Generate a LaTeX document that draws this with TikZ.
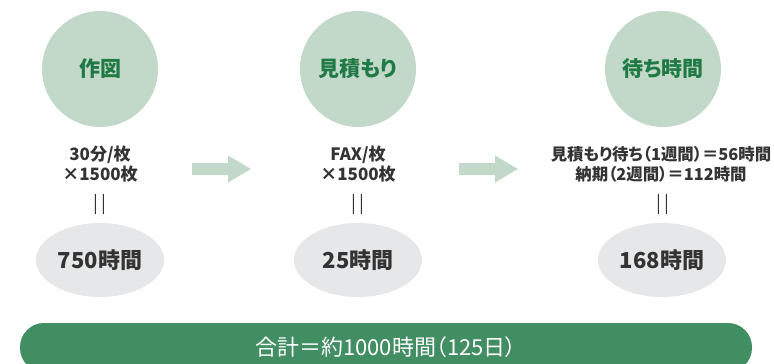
\documentclass[tikz,border=0pt]{standalone}
\usepackage{fontspec}
\setmainfont{Noto Sans CJK JP}[RawFeature=+palt]
\usetikzlibrary{shapes.geometric}
\definecolor{circ}{HTML}{C2D8C8}
\definecolor{dgreen}{HTML}{1F7A45}
\definecolor{greyell}{HTML}{E6E7E8}
\definecolor{bar}{HTML}{418E62}
\definecolor{txt}{HTML}{333333}
\tikzset{
  stage/.style={circle, fill=circ, minimum size=116pt, inner sep=0pt, text=dgreen, font=\fontsize{21}{24}\selectfont\bfseries},
  note/.style={align=center, text=txt, inner sep=0pt, font=\fontsize{17}{20}\selectfont\bfseries},
  eqs/.style={text=txt, inner sep=0pt, font=\fontsize{18}{20}\selectfont},
  result/.style={ellipse, fill=greyell, minimum width=128pt, minimum height=74pt, inner sep=0pt, text=txt, font=\fontsize{22}{25}\selectfont\bfseries},
  flow/.style={fill=circ},
}
\begin{document}
\begin{tikzpicture}[x=1pt,y=-1pt]
\useasboundingbox (0,0) rectangle (774,364);
\clip (0,0) rectangle (774,364);
% stages
\node[stage] (c1) at (100,69) {作図};
\node[stage] (c2) at (358,69) {見積もり};
\node[stage] (c3) at (663,69) {待ち時間};
% notes
\node[note] (n1) at (100,164) {30分/枚\\×1500枚};
\node[note] (n2) at (358,164) {FAX/枚\\×1500枚};
\node[note, font=\fontsize{16.4}{20}\selectfont\bfseries] (n3) at (661,164) {見積もり待ち（1週間）＝56時間\\納期（2週間）＝112時間};
% equals
\node[eqs] (q1) at (100,204) {|\,|};
\node[eqs] (q2) at (358,204) {|\,|};
\node[eqs] (q3) at (663,204) {|\,|};
% results
\node[result] (e1) at (100,260) {750時間};
\node[result] (e2) at (358,260) {25時間};
\node[result] (e3) at (662,260) {168時間};
% arrows
\coordinate (a1) at (192,169);
\coordinate (a2) at (459,169);
\foreach \a in {a1,a2}{
  \fill[flow] (\a) ++(0,-6) -- ++(36,0) -- ++(0,-7.5) -- ++(23,13.5) -- ++(-23,13.5) -- ++(0,-7.5) -- ++(-36,0) -- cycle;
}
% total bar
\fill[bar, rounded corners=24pt] (20,323) rectangle (752,372);
\node[text=white, font=\fontsize{22}{25}\selectfont] (tot) at (386,347) {合計＝約1000時間（125日）};
\end{tikzpicture}
\end{document}
